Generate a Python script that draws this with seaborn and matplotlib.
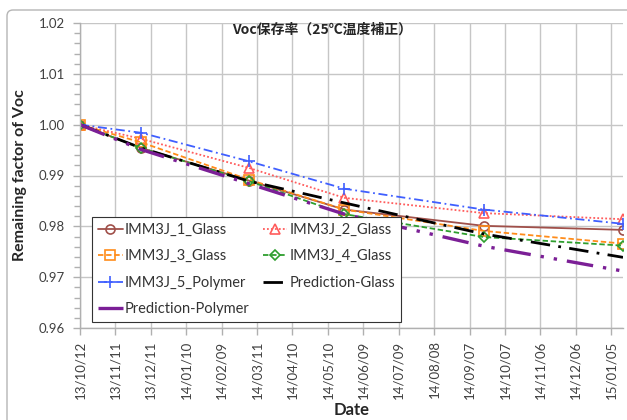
import numpy as np
import pandas as pd
import matplotlib
matplotlib.use("Agg")
import matplotlib.pyplot as plt
import matplotlib.dates as mdates
from matplotlib.patches import FancyBboxPatch
from matplotlib.transforms import IdentityTransform
from matplotlib.ticker import MultipleLocator
import seaborn as sns

# ---------------- data ----------------
tick_labels = ["13/10/12", "13/11/11", "13/12/11", "14/01/10", "14/02/09", "14/03/11",
               "14/04/10", "14/05/10", "14/06/09", "14/07/09", "14/08/08", "14/09/07",
               "14/10/07", "14/11/06", "14/12/06", "15/01/05"]
y_ticks = [0.96, 0.97, 0.98, 0.99, 1.00, 1.01, 1.02]
measure_dates = ["2013-10-12", "2013-12-03", "2014-03-04", "2014-05-24",
                 "2014-09-19", "2015-01-15"]
imm3j_1_glass = [1.0000, 0.9954, 0.9890, 0.9833, 0.9801, 0.9793]
imm3j_2_glass = [1.0000, 0.9972, 0.9915, 0.9856, 0.9826, 0.9814]
imm3j_3_glass = [1.0000, 0.9965, 0.9892, 0.9833, 0.9791, 0.9766]
imm3j_4_glass = [1.0000, 0.9954, 0.9889, 0.9824, 0.9779, 0.9762]
imm3j_5_polymer = [1.0000, 0.9984, 0.9928, 0.9874, 0.9833, 0.9805]
prediction_glass = [1.0000, 0.9954, 0.9889, 0.9846, 0.9785, 0.9739]
prediction_polymer = [1.0000, 0.9951, 0.9884, 0.9824, 0.9761, 0.9712]

title_text = "Voc保存率（25℃温度補正）"
y_label = "Remaining factor of Voc"
x_label = "Date"

# ---------------- style ----------------
sns.set_theme(style="whitegrid")
plt.rcParams['font.family'] = ['Lato', 'Noto Sans CJK JP', 'DejaVu Sans']

dates = pd.to_datetime(measure_dates)
tick_dates = pd.to_datetime(tick_labels, format="%y/%m/%d")

fig = plt.figure(figsize=(6.27, 4.20), dpi=100)
W, H = 627, 420
ax = fig.add_axes([80 / W, 1 - 328 / H, (623 - 80) / W, (328 - 23) / H])
ax.set_facecolor("white")

series = [
    ("IMM3J_1_Glass", imm3j_1_glass, dict(color="#a0504a", linestyle="-", marker="o", ms=6.5, lw=1.3)),
    ("IMM3J_2_Glass", imm3j_2_glass, dict(color="#ff5c5c", linestyle=(0, (1, 1.2)), marker="^", ms=7, lw=1.3)),
    ("IMM3J_3_Glass", imm3j_3_glass, dict(color="#ff8c1a", linestyle=(0, (3, 1.5)), marker="s", ms=6.5, lw=1.3)),
    ("IMM3J_4_Glass", imm3j_4_glass, dict(color="#2e9e2e", linestyle=(0, (3, 1.5)), marker="D", ms=5.5, lw=1.3)),
    ("IMM3J_5_Polymer", imm3j_5_polymer, dict(color="#3f5fff", linestyle=(0, (5, 2, 1, 2)), marker="+", ms=8, lw=1.3)),
    ("Prediction-Glass", prediction_glass, dict(color="#000000", linestyle=(0, (7, 3, 1, 3)), marker=None, ms=0, lw=2.0)),
    ("Prediction-Polymer", prediction_polymer, dict(color="#7b1f96", linestyle=(0, (8, 3, 1, 3, 1, 3)), marker=None, ms=0, lw=2.4)),
]

handles = {}
for name, vals, st in series:
    kw = dict(color=st["color"], linestyle=st["linestyle"], linewidth=st["lw"])
    if st["marker"] is not None:
        kw.update(marker=st["marker"], markersize=st["ms"], markerfacecolor="none",
                  markeredgecolor=st["color"], markeredgewidth=1.2)
    sns.lineplot(x=dates, y=vals, ax=ax, legend=False, **kw)
    handles[name] = ax.lines[-1]

# axes
ax.set_xlim(tick_dates[0], pd.Timestamp("2015-01-15"))
ax.set_ylim(0.96, 1.02)
ax.set_xticks(tick_dates)
ax.set_xticklabels(tick_labels, rotation=90)
ax.set_yticks(y_ticks)
ax.set_yticklabels([f"{v:.2f}" for v in y_ticks])
ax.yaxis.set_minor_locator(MultipleLocator(0.002))

ax.grid(True, which="major", color="#c6c6c6", linewidth=1.0)
ax.grid(False, which="minor")
for s in ["top", "right"]:
    ax.spines[s].set_visible(False)
for s in ["left", "bottom"]:
    ax.spines[s].set_color("#b0b0b0")
    ax.spines[s].set_linewidth(1.0)

ax.tick_params(axis="both", which="major", direction="out", length=5, width=1,
               color="#b0b0b0", labelsize=9.5, labelcolor="#404040")
ax.tick_params(axis="y", which="minor", direction="out", length=4, width=1,
               color="#b0b0b0", left=True)
ax.tick_params(axis="y", which="major", pad=6, left=True)
ax.tick_params(axis="x", which="major", pad=4, bottom=True)

ax.set_xlabel(x_label, fontsize=12, fontweight="bold", labelpad=2)
ax.set_ylabel(y_label, fontsize=11.5, fontweight="bold", labelpad=8)

fig.text(322 / W, 1 - 30 / H, title_text, ha="center", va="center", fontsize=10,
         fontweight="bold", family=["Noto Sans CJK JP", "DejaVu Sans"])

order = ["IMM3J_1_Glass", "IMM3J_3_Glass", "IMM3J_5_Polymer", "Prediction-Polymer",
         "IMM3J_2_Glass", "IMM3J_4_Glass", "Prediction-Glass"]
leg = ax.legend([handles[n] for n in order], order, ncol=2, loc="lower left",
                bbox_to_anchor=((92 - 80) / 543, (328 - 322) / 305), borderaxespad=0,
                fontsize=10.5, frameon=True, fancybox=False, framealpha=1,
                edgecolor="#333333", handlelength=1.7, handletextpad=0.15,
                columnspacing=0.9, labelspacing=0.85, borderpad=0.4)
leg.get_frame().set_linewidth(0.8)
for t in leg.get_texts():
    t.set_color("#333333")

# outer chart border
border = FancyBboxPatch((7, -40), 700, 420 - 10 + 40, boxstyle="round,pad=0,rounding_size=6",
                        transform=IdentityTransform(), facecolor="none",
                        edgecolor="#b5b5b5", linewidth=1.0)
fig.add_artist(border)

fig.savefig("out.png", dpi=100, facecolor="white")
